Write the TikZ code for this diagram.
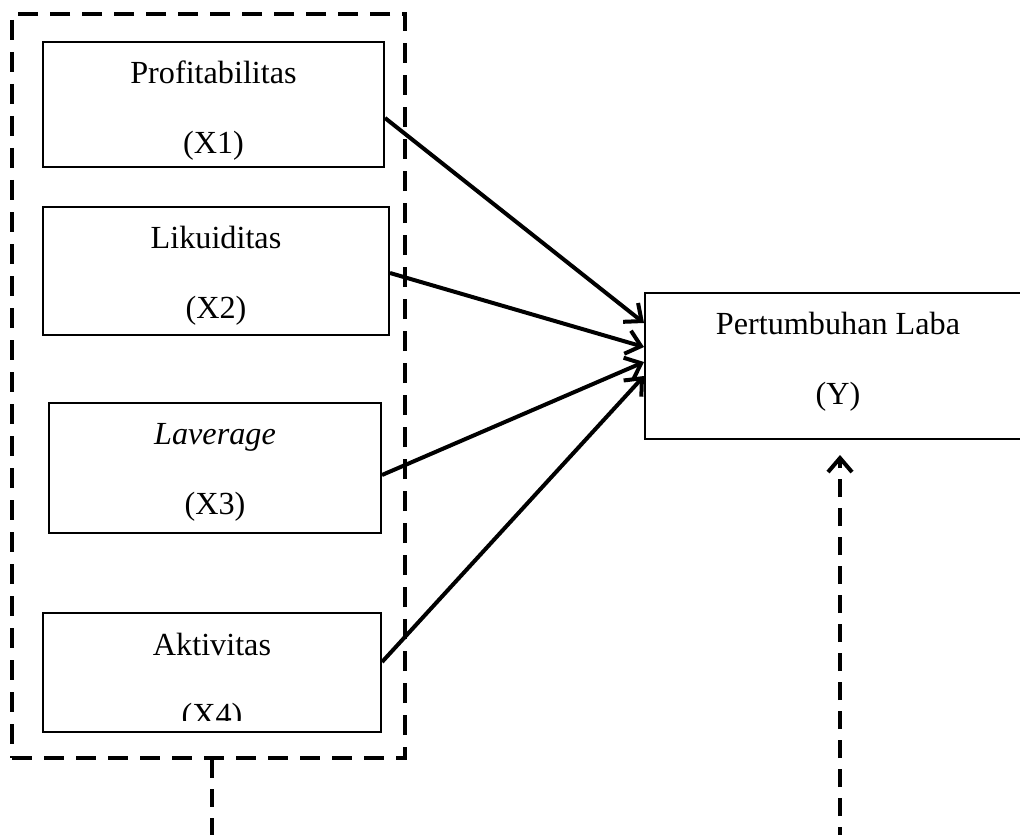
\documentclass[tikz,border=0pt]{standalone}
\usepackage{fontspec}
\setmainfont{Liberation Serif}
\usepackage{tikz}
\usetikzlibrary{positioning,arrows.meta,calc}
\tikzset{
  varbox/.style={draw, line width=1pt, inner sep=0pt, align=center,
                 font=\fontsize{16.1}{35}\selectfont},
  grpbox/.style={draw, line width=2pt, dash pattern=on 10pt off 6pt, inner sep=0pt,
                 minimum width=196.5pt, minimum height=372pt},
  infl/.style={-{Straight Barb[length=7pt,width=12pt,line width=2pt]}, line width=2pt},
  link/.style={-{Straight Barb[length=7pt,width=12pt,line width=2pt]}, line width=2pt,
               dash pattern=on 9pt off 5.5pt}
}
\begin{document}
\begin{tikzpicture}[x=0.5pt,y=-0.5pt]
    \useasboundingbox (0,0) rectangle (1020,834);
    % independent variables
    \node[grpbox] (grp) at (208.5,386) {};
    \node[varbox, minimum width=170.5pt, minimum height=62.5pt] (x1) at (213.5,104.5) {};
    \node[varbox, draw=none] (x1txt) at (213.5,110.5) {Profitabilitas\\(X1)};
    \node[varbox, minimum width=173pt, minimum height=64pt] (x2) at (216,271) {};
    \node[varbox, draw=none] (x2txt) at (216,276) {Likuiditas\\(X2)};
    \node[varbox, minimum width=166pt, minimum height=65pt] (x3) at (215,468) {};
    \node[varbox, draw=none] (x3txt) at (215,472) {\textit{Laverage}\\(X3)};
    \node[varbox, minimum width=169pt, minimum height=59.5pt] (x4) at (212,672.5) {};
    \begin{scope}
      \clip (43,613) rectangle (381,720);
      \node[varbox, draw=none] (x4txt) at (212,683) {Aktivitas\\(X4)};
    \end{scope}
    % dependent variable
    \node[varbox, minimum width=192.5pt, minimum height=73pt] (y) at (837.5,366) {};
    \node[varbox, draw=none] (ytxt) at (838,362) {Pertumbuhan Laba\\(Y)};
    \draw[infl] ([yshift=-6.75pt]x1.east) -- ([yshift=21.5pt]y.west);
    \draw[infl] ([yshift=-1pt]x2.east) -- ([yshift=9.5pt]y.west);
    \draw[infl] ([yshift=-3.5pt]x3.east) -- ([yshift=2pt]y.west);
    \draw[infl] ([yshift=5.25pt]x4.east) -- ([yshift=-5pt]y.west);
    % simultaneous effect
    \coordinate (c1) at (212,836.5);
    \coordinate (c2) at (840,836.5);
    \coordinate (tip) at (840,455);
    \draw[link] (grp.south -| c1) -- (c1) -- (c2) -- (tip);
  \end{tikzpicture}
\end{document}
